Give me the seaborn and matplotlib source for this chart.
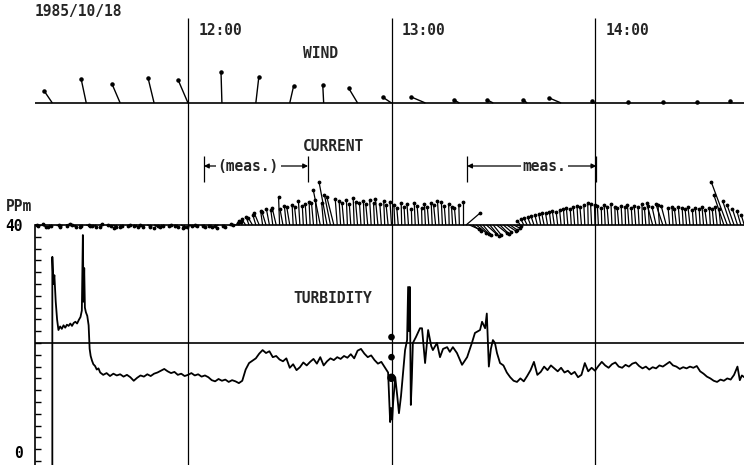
import numpy as np
import pandas as pd
import matplotlib
matplotlib.use("Agg")
import matplotlib.pyplot as plt
from matplotlib.collections import LineCollection
import seaborn as sns

# time axis: minutes after 11:00
hours = [60, 120, 180]
hour_labels = ["12:00", "13:00", "14:00"]

# wind (every 10 min), m/s east / north
wind_t = [20, 30, 40, 50, 60, 70, 80, 90, 100, 110, 120, 130, 140, 150, 160, 170, 180, 190, 200, 210, 220]
wind_u = [-2.7, -1.7, -2.7, -2.0, -3.3, -0.3, 1.0, 1.3, -0.3, -3.0, -3.0, -4.7, -1.7, -2.0, -1.3, -4.0, -1.0, -0.3, 0.0, 0.0, -0.3]
wind_v = [4.0, 8.0, 6.3, 8.3, 7.7, 10.3, 8.7, 5.7, 6.0, 5.0, 2.0, 2.0, 1.0, 1.0, 1.0, 1.7, 0.7, 0.3, 0.3, 0.3, 0.7]

# current (every minute from 11:15), cm/s
cur_t = np.arange(15, 225)
cur_u = [3, -2, 4, -3, 2, -4, 3, 1, -3, 4, -2, 3, -4, 2, -3, 4, -1, 3, -4, 2, -3, 4, -2, 3, -3, 2, -4, 3, -2, 4,
         -3, 2, -4, 3, -1, 4, -3, 2, -4, 3, -2, 4, -3, 3, -2, 4, -4, 2, -3, 3, -2, 4, -3, 2, -4, 3, -2, 4, -1, 3, 2,
         -3, -4, -3, -4, -3, -5, -2, -4, -3, -2, -4, -1, -3, -2, -3,
         -1, -2, -1.5, -1, -1.5, -1, -2, -1.5, -7, -2, -8, -6, -7, -2, -1.5, -2, -1, -1.5, -1, -2, -1.5, -1, -2, -1.5,
         -1, -2.5, -1.5, -1, -2, -1.5,
         -1, -1.5, -0.5, -1, -1.5, -0.5, -1, -1.5, -0.5, -1, -1.5, -1, -2, -1.5, -1, -1.5, -0.5, -1, -1.5, -0.5, 0,
         14, 9, 8, 10, 9, 8, 10, 9, 8, 10, 9, 8, 9, 7, 6, 4,
         -3, -3, -3.5, -3, -3, -2.5, -2, -2.5, -2, -1.5, -2, -1.5, -1.5, -1, -1.5, -1, -1.5, -1, -1.5, -1, -0.5, -1, -0.5,
         -1, -0.5, -1, -1.5, -1, -0.5, -1.5, -1, -0.5, -1.5, -1, -1.5, -1, -0.5, -1.5, -1, -6, -4, -1.5, -7, -5, -1.5,
         -1, -2, -1.5, -1, -1.5, -2, -1, -1.5, -1, -1.5, -2, -1, -1.5, -2, -1.5, -10, -16, -8, -7, -5, -4, -3]
cur_v = [-1, 0, -2, 1, -1, -2, 0, -1, -2, 1, -1, -2, 0, -1, -2, -1, 0, -2, -1, 1, -2, -1, 0, -2, -3, -1, -2, 0, -1, -2,
         -1, -2, 0, -1, -2, -1, -3, -1, -2, 0, -1, -2, -1, -2, -3, -1, -2, -1, 0, -2, -1, -2, -1, -3, -1, -2, -1, 0, 1, 2, 3,
         4, 6, 8, 7, 10, 12, 14, 13, 16, 15, 17, 28, 16, 19, 18,
         20, 18, 24, 19, 21, 23, 22, 25, 35, 22, 43, 30, 28, 26, 24, 22, 25, 21, 27, 23, 22, 24, 21, 25, 22, 26, 21, 24, 20, 23,
         20, 17, 22, 18, 21, 16, 22, 19, 17, 21, 18, 22, 20, 24, 23, 19, 21, 18, 17, 20, 23,
         12, -4, -6, -8, -9, -10, -9, -11, -10, -8, -9, -7, -6, -5, -3, -1,
         4, 6, 7, 8, 9, 10, 11, 12, 12, 13, 14, 13, 15, 16, 17, 16, 18, 19, 18, 20, 22, 21, 20,
         19, 17, 20, 18, 21, 18, 17, 19, 18, 20, 17, 19, 18, 21, 17, 19, 22, 18, 20, 21, 19, 17, 18, 16,
         18, 17, 16, 18, 15, 17, 16, 18, 15, 17, 16, 18, 16, 30, 43, 24, 20, 16, 14, 10]

# turbidity, ppm
turb_t = [20.0, 20.0, 20.3, 20.6, 21.0, 21.4, 21.8, 22.3, 22.8, 23.3, 23.8, 24.3, 24.8, 25.3, 25.8, 26.3, 26.8,
          27.3, 27.8, 28.3, 28.7, 29.0, 29.2, 29.4, 29.6, 29.9, 30.3, 30.7, 31.0, 31.3, 31.7, 32.1, 32.6, 33.1,
          33.6, 34.1] + list(range(35, 119)) + [
          119.0, 119.3, 119.6, 119.9, 120.2, 120.5, 121.1, 121.7, 122.2, 122.8, 123.4, 124.0, 124.6, 124.9,
          125.2, 125.4, 125.7, 126.0, 126.3, 127.2, 128.4, 129.0, 129.9, 130.8, 131.7, 132.2, 133.4, 134.3,
          135.2, 136.4, 137.2, 138.1, 139.3, 140.8, 142.3, 143.7, 144.6, 146.1, 146.7, 147.6, 148.1, 148.7,
          149.3, 149.9, 150.5, 151.1] + list(range(152, 223)) + [222.7, 223.3, 224.0]
turb_v = [-1.0, 34.6, 30.0, 31.5, 27.0, 24.0, 22.2, 22.8, 22.4, 23.0, 22.6, 23.1, 22.9, 23.3, 22.9, 23.4, 23.6,
          23.3, 23.9, 24.4, 25.5, 38.3, 27.0, 32.7, 26.0, 25.2, 24.6, 23.0, 19.0, 17.8, 17.0, 16.4, 16.1, 15.5,
          15.7, 15.0,
          14.6, 14.9, 14.4, 14.8, 14.5, 14.7, 14.3, 14.6, 14.2, 13.6, 14.1, 14.5, 14.3, 14.7, 14.4, 14.8, 15.0,
          15.3, 15.6, 15.2, 14.9, 15.1, 14.6, 14.8, 14.4, 14.6, 14.9, 14.5, 14.7, 14.3, 14.5, 14.2, 13.7, 13.5,
          13.9, 13.6, 13.8, 13.4, 13.7, 13.5, 13.2,
          13.6, 15.5, 16.6, 17.0, 17.4, 18.2, 18.8, 18.3, 18.6, 17.6, 17.8, 17.2, 16.9, 17.4, 15.8, 16.4, 15.4,
          15.9, 16.7, 16.2, 16.8, 17.3, 16.5, 17.6, 16.2, 16.9, 17.4, 17.1, 17.6, 17.3, 17.8, 17.5, 18.1, 17.4,
          18.7, 19.0, 18.2, 17.6, 17.9, 17.1, 16.5, 16.8, 15.9,
          15.0, 11.0, 6.6, 9.0, 7.0, 10.0, 14.2, 11.0, 8.1, 11.0, 15.0, 18.8, 20.5, 29.5, 22.0, 29.5, 9.5, 14.0,
          20.0, 21.0, 22.5, 22.5, 16.6, 22.2, 19.5, 18.8, 20.0, 17.6, 19.0, 19.3, 18.5, 19.3, 18.3, 16.3, 17.6,
          20.0, 21.7, 22.2, 23.6, 22.5, 25.0, 16.0, 19.0, 20.5, 20.0, 18.3,
          16.6, 16.2, 15.0, 14.2, 13.6, 13.4, 14.0, 13.5, 14.4, 15.4, 16.8, 14.6, 15.1, 16.0, 15.4, 16.2, 15.7,
          15.2, 15.8, 15.0, 15.3, 14.7, 15.1, 14.2, 14.6, 16.6, 15.2, 15.8, 15.3, 16.1, 16.8, 16.2, 15.8, 16.4,
          16.7, 16.0, 15.8, 16.3, 16.0, 16.5, 16.7, 16.1, 15.7, 16.0, 15.5, 15.9, 15.7, 16.2, 16.0, 16.4, 16.8,
          16.2, 16.0, 15.6, 15.9, 15.7, 16.0, 15.8, 16.1, 15.2, 14.8, 14.3, 14.0, 13.6, 13.4, 13.8, 13.6, 14.0,
          13.8, 14.6, 16.0, 13.7, 14.5, 14.2]

marks_13 = [21.0, 17.6, 14.1]

meas_start = [64.7, 142.3]
meas_end = [95.4, 180.4]
meas_text = ["(meas.)", "meas."]
meas_text_x = [77.8, 165.1]

# layout (pixel scale of the original chart)
PX_MIN = 203.5 / 60
PX_PPM = 5.9
WIND_BASE = (461 - 103) / PX_PPM
CUR_BASE = 40
WIND_PX = 3.0   # px per m/s
CUR_PX = 1.0    # px per cm/s

sns.set_theme(style="white")
plt.rcParams["font.family"] = ["DejaVu Sans Mono"]
plt.rcParams["font.weight"] = "bold"

fig = plt.figure(figsize=(7.44, 4.65), dpi=100)
ax = fig.add_axes([0, 0, 1, 1])
ax.patch.set_alpha(0)

df = pd.DataFrame({"t": turb_t, "ppm": turb_v})
sns.lineplot(data=df, x="t", y="ppm", sort=False, estimator=None,
             color="black", lw=1.3, ax=ax)

t0 = 60 - 188 / PX_MIN
ax.set_xlim(t0, t0 + 744 / PX_MIN)
y0 = -4 / PX_PPM
ax.set_ylim(y0, y0 + 465 / PX_PPM)
xmax = ax.get_xlim()[1]

# frame lines
ax.vlines(hours, y0, (461 - 18) / PX_PPM, color="black", lw=0.9)
ax.hlines([WIND_BASE, CUR_BASE, 20], 15, xmax, color="black", lw=1.2)

# wind sticks
wx = np.array(wind_t, dtype=float)
wdx = np.array(wind_u) * WIND_PX / PX_MIN
wdy = np.array(wind_v) * WIND_PX / PX_PPM
segs = [[(x, WIND_BASE), (x + dx, WIND_BASE + dy)] for x, dx, dy in zip(wx, wdx, wdy)]
ax.add_collection(LineCollection(segs, colors="black", linewidths=1.0))
ax.scatter(wx + wdx, WIND_BASE + wdy, s=5, color="black", zorder=3)

# current sticks
cdx = np.array(cur_u) * CUR_PX / PX_MIN
cdy = np.array(cur_v) * CUR_PX / PX_PPM
segs = [[(x, CUR_BASE), (x + dx, CUR_BASE + dy)] for x, dx, dy in zip(cur_t, cdx, cdy)]
ax.add_collection(LineCollection(segs, colors="black", linewidths=0.9))
ax.scatter(cur_t + cdx, CUR_BASE + cdy, s=3, color="black", zorder=3)

# points on the 13:00 line
ax.scatter([120] * len(marks_13), marks_13, s=[14, 14, 26], color="black", zorder=4)

# measurement intervals
ym = (461 - 166) / PX_PPM
for a, b, lab, xt in zip(meas_start, meas_end, meas_text, meas_text_x):
    ax.annotate("", xy=(a, ym), xytext=(b, ym),
                arrowprops=dict(arrowstyle="<|-|>", color="black", lw=0.9,
                                mutation_scale=7, shrinkA=0, shrinkB=0))
    ax.vlines([a, b], (461 - 182) / PX_PPM, (461 - 156) / PX_PPM, color="black", lw=0.9)
    ax.text(xt, ym, lab, ha="center", va="center", fontsize=10.5,
            bbox=dict(facecolor="white", edgecolor="none", pad=1.5))

# labels
fs = 10.5
ax.text(14.9, (461 - 11) / PX_PPM, "1985/10/18", ha="left", va="center", fontsize=fs)
for h, lab in zip(hours, hour_labels):
    ax.text(h + 3.0, (461 - 30) / PX_PPM, lab, ha="left", va="center", fontsize=fs)
ax.text(93.9, (461 - 53) / PX_PPM, "WIND", ha="left", va="center", fontsize=fs)
ax.text(93.9, (461 - 146) / PX_PPM, "CURRENT", ha="left", va="center", fontsize=fs)
ax.text(91.0, (461 - 298) / PX_PPM, "TURBIDITY", ha="left", va="center", fontsize=fs)
ax.text(t0 + 6 / PX_MIN, (461 - 206) / PX_PPM, "PPm", ha="left", va="center", fontsize=fs)

# turbidity axis
for s in ["top", "right", "bottom"]:
    ax.spines[s].set_visible(False)
ax.spines["left"].set_position(("data", 15))
ax.spines["left"].set_bounds(y0, 40)
ax.spines["left"].set_linewidth(1.2)
ax.spines["left"].set_color("black")
ticks = np.arange(0, 41, 2)
ax.set_yticks(ticks)
ax.set_yticklabels(["0" if v == 0 else "40" if v == 40 else "" for v in ticks],
                   fontsize=fs, fontweight="bold")
ax.get_yticklabels()[0].set_verticalalignment("bottom")
ax.tick_params(axis="y", direction="in", length=4, width=1, pad=9, left=True, colors="black")
ax.set_xticks([])
ax.set_xlabel("")
ax.set_ylabel("")

fig.savefig("out.png", dpi=100)
